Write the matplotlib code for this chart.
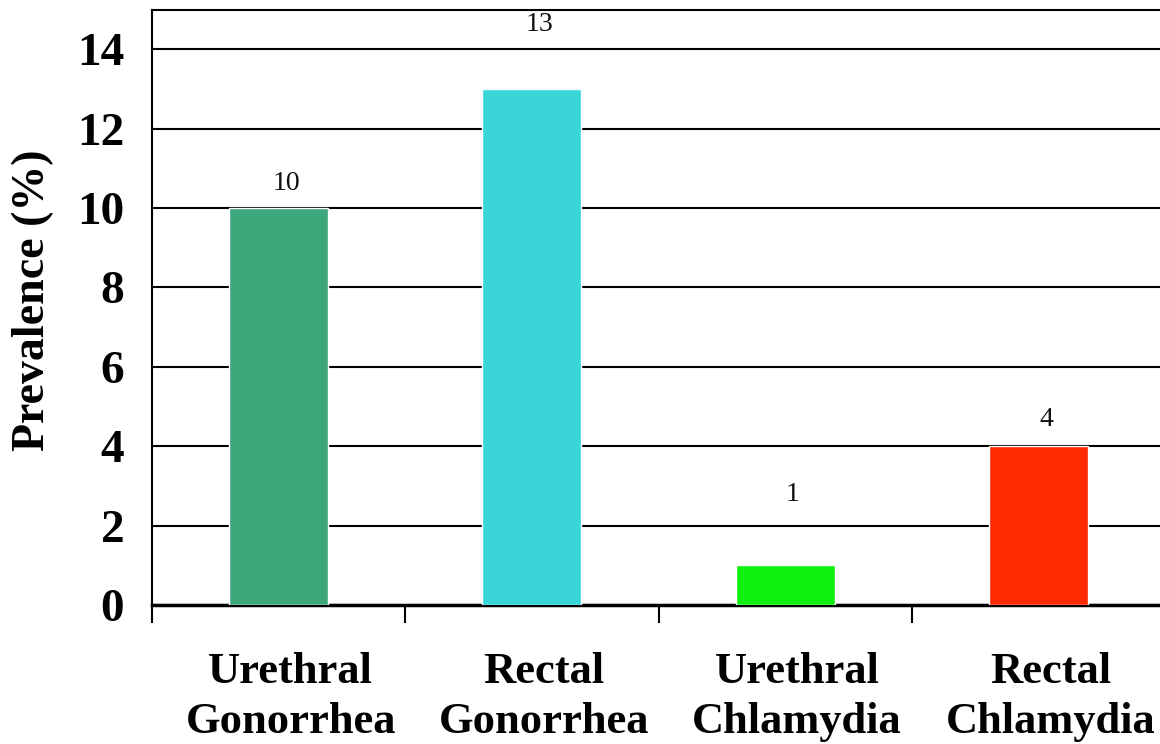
import matplotlib
matplotlib.use("Agg")
import matplotlib.pyplot as plt
import matplotlib.transforms as mtransforms

categories = ["Urethral\nGonorrhea", "Rectal\nGonorrhea", "Urethral\nChlamydia", "Rectal\nChlamydia"]
values = [10, 13, 1, 4]
value_labels = ["10", "13", "1", "4"]
label_y = [10.62, 14.62, 2.78, 4.68]
colors = ["#3DA67A", "#3AD5D6", "#0EF00E", "#FF2A00"]
yticks = [0, 2, 4, 6, 8, 10, 12, 14]

plt.rcParams['font.family'] = ['Liberation Serif', 'DejaVu Serif']

fig = plt.figure(figsize=(11.6, 7.44), dpi=100)
ax = fig.add_axes([152/1160, 1-605/744, (1165-152)/1160, (605-9.5)/744])

x = list(range(len(categories)))
ax.bar(x, values, width=0.39, color=colors, edgecolor="white", linewidth=1.0, zorder=3)

for xi, lab, ly in zip(x, value_labels, label_y):
    ax.text(xi + 0.03, ly, lab, ha="center", va="center", fontsize=20, color="#111111", zorder=4)

ax.set_xlim(-0.5, 3.5)
ax.set_ylim(0, 15)
ax.set_yticks(yticks)
ax.set_yticklabels([str(t) for t in yticks], fontsize=34, fontweight="bold")
ax.tick_params(axis="y", length=0, pad=20)
ax.yaxis.grid(True, color="black", linewidth=1.5)
ax.set_axisbelow(True)

ax.set_xticks(x)
ax.set_xticklabels(categories, fontsize=32, fontweight="bold", linespacing=1.3)
ax.tick_params(axis="x", which="major", length=0, pad=34)
ax.set_xticks([-0.5, 0.5, 1.5, 2.5, 3.5], minor=True)
ax.tick_params(axis="x", which="minor", length=13, width=1.5, direction="out", color="black")
offset = mtransforms.ScaledTranslation(12/100, 0, fig.dpi_scale_trans)
for lbl in ax.get_xticklabels():
    lbl.set_transform(lbl.get_transform() + offset)

ax.set_ylabel("Prevalence (%)", fontsize=33, fontweight="bold")
ax.yaxis.set_label_coords((54-152)/1013, (605-300)/595.5)

for s in ["left", "bottom", "top", "right"]:
    ax.spines[s].set_linewidth(1.5)
    ax.spines[s].set_color("black")
ax.spines["bottom"].set_linewidth(2.5)

fig.savefig("out.png", dpi=100, facecolor="white")
